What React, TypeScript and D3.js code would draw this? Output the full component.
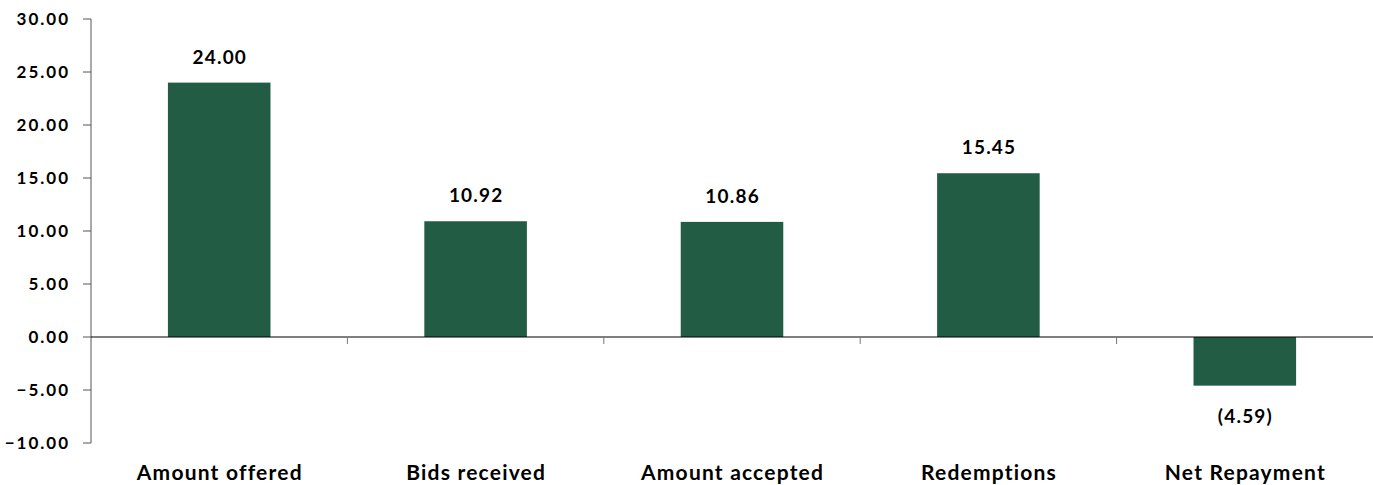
import React from "react";
import * as d3 from "d3";

const categories = ["Amount offered", "Bids received", "Amount accepted", "Redemptions", "Net Repayment"];
const values = [24.0, 10.92, 10.86, 15.45, -4.59];
const yTicks = [-10, -5, 0, 5, 10, 15, 20, 25, 30];

const W = 1373;
const H = 485;
const margin = { left: 91, right: 0, top: 19, bottom: 42 };
const FONT = "Lato, 'Open Sans', sans-serif";
const BAR = "#225c44";

export default function App() {
  const x = d3
    .scaleBand<string>()
    .domain(categories)
    .range([margin.left, W - margin.right])
    .paddingInner(0.6)
    .paddingOuter(0.3);
  const band = d3.scaleBand<string>().domain(categories).range([margin.left, W - margin.right]);
  const y = d3.scaleLinear().domain([-10, 30]).range([H - margin.bottom, margin.top]);
  const fmtTick = d3.format(".2f");
  const fmtVal = (v: number) => (v < 0 ? `(${fmtTick(-v)})` : fmtTick(v));

  return (
    <svg width={W} height={H} style={{ position: "absolute", left: 0, top: 0 }}>
      {/* bars */}
      {categories.map((c, i) => {
        const v = values[i];
        const y0 = y(0);
        const y1 = y(v);
        return (
          <rect
            key={c}
            x={x(c)}
            width={x.bandwidth()}
            y={Math.min(y0, y1)}
            height={Math.abs(y1 - y0)}
            fill={BAR}
          />
        );
      })}
      {/* y axis */}
      <line x1={margin.left} x2={margin.left} y1={y(30)} y2={y(-10)} stroke="#555" strokeWidth={1} />
      {yTicks.map((t) => (
        <g key={t}>
          <line x1={margin.left - 8} x2={margin.left} y1={y(t)} y2={y(t)} stroke="#555" strokeWidth={1} />
          <text
            x={70}
            y={y(t)}
            dy="0.35em"
            textAnchor="end"
            fontFamily={FONT}
            fontWeight="bold"
            fontSize={17}
            letterSpacing={2}
            fill="#000"
          >
            {fmtTick(t)}
          </text>
        </g>
      ))}
      {/* zero baseline */}
      <line x1={margin.left} x2={W} y1={y(0)} y2={y(0)} stroke="#000" strokeWidth={1} />
      {categories.slice(1).map((c) => (
        <line key={c} x1={band(c)} x2={band(c)} y1={y(0)} y2={y(0) + 7} stroke="#777" strokeWidth={1} />
      ))}
      {/* value labels */}
      {categories.map((c, i) => {
        const v = values[i];
        const cx = (x(c) ?? 0) + x.bandwidth() / 2;
        const ty = v >= 0 ? y(v) - 19 : y(v) + 37;
        return (
          <text
            key={c}
            x={cx + 0.6}
            y={ty}
            textAnchor="middle"
            fontFamily={FONT}
            fontWeight="bold"
            fontSize={19}
            letterSpacing={1.2}
            fill="#000"
          >
            {fmtVal(v)}
          </text>
        );
      })}
      {/* category labels */}
      {categories.map((c) => (
        <text
          key={c}
          x={(x(c) ?? 0) + x.bandwidth() / 2 + 0.6}
          y={480}
          textAnchor="middle"
          fontFamily={FONT}
          fontWeight="bold"
          fontSize={21}
          letterSpacing={1.2}
          fill="#000"
        >
          {c}
        </text>
      ))}
    </svg>
  );
}
